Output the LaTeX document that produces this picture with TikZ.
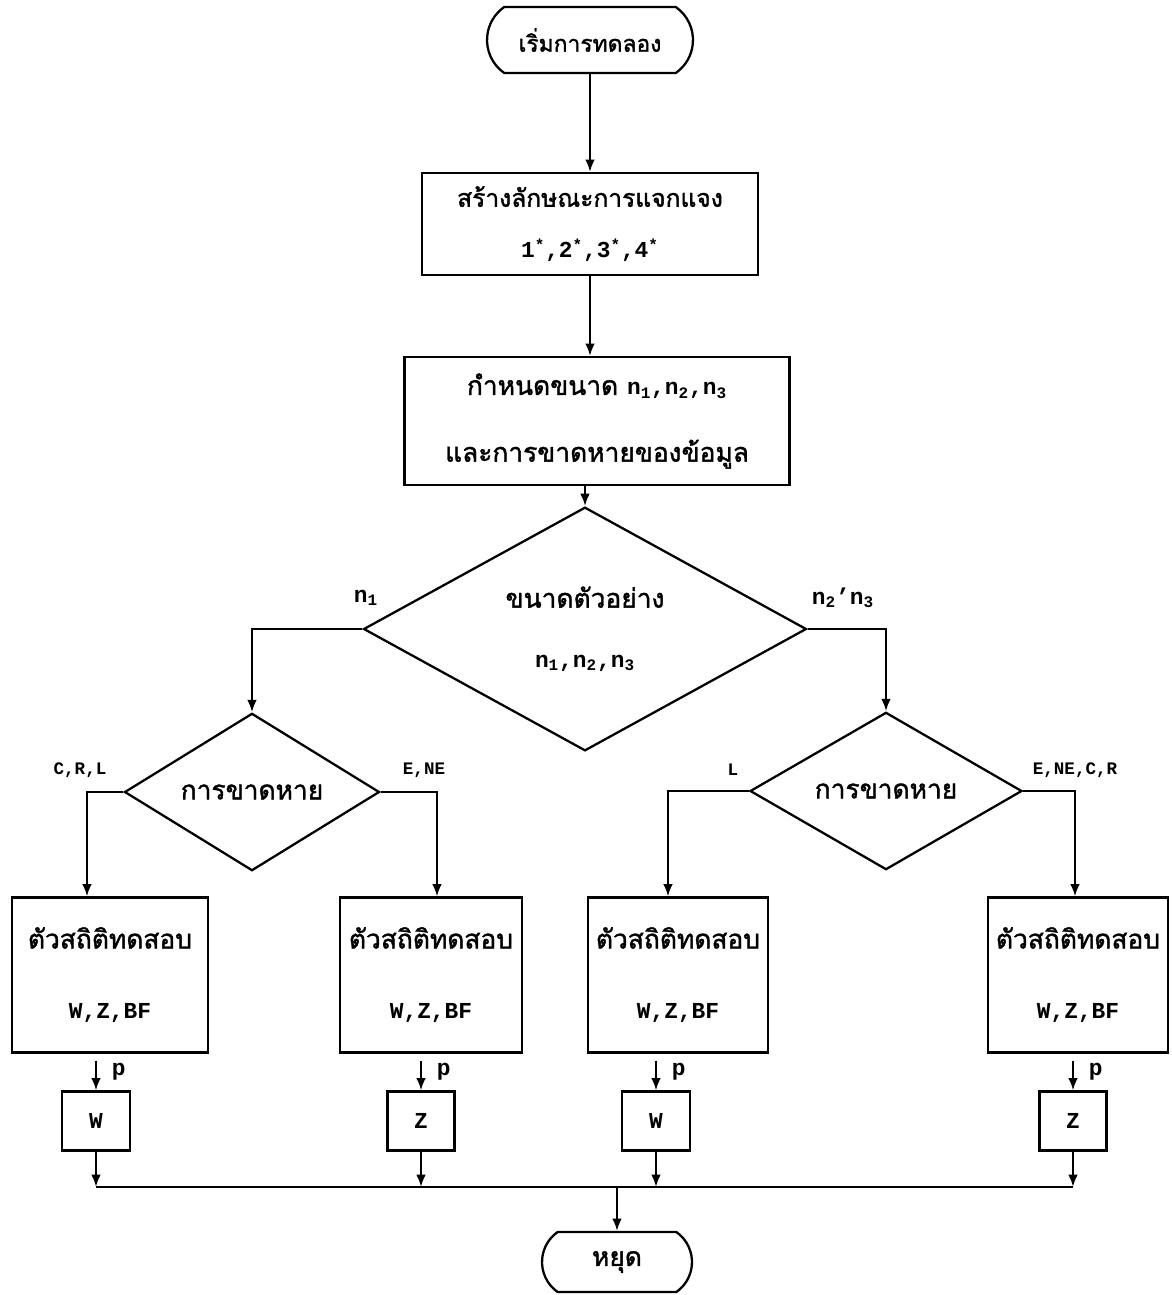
\documentclass[tikz,border=0pt]{standalone}
\usepackage{fontspec}
\setmainfont{Liberation Mono}
\newfontfamily\thaifnt[Script=Thai,FakeBold=1.5]{Loma}
\usetikzlibrary{shapes.geometric,shapes.misc,arrows.meta}
\newcommand\latxt[1]{{\rmfamily\bfseries\fontsize{13}{16}\selectfont #1}}
\begin{document}
\begin{tikzpicture}[x=0.02cm,y=-0.02cm,
  line width=1.3pt,
  arr/.style={-{Latex[length=7pt,width=5.5pt]}},
  box/.style={draw, rectangle, inner sep=0pt, align=center},
  term/.style={draw, rounded rectangle, rounded rectangle arc length=110, inner sep=0pt},
  dia/.style={draw, diamond, inner sep=0pt, align=center},
  th/.style={font=\thaifnt\fontsize{15}{18}\selectfont},
  ths/.style={font=\thaifnt\fontsize{14}{17}\selectfont},
  lat/.style={font=\rmfamily\bfseries\fontsize{13}{16}\selectfont},
  lab/.style={font=\rmfamily\bfseries\fontsize{10}{11}\selectfont},
]
\useasboundingbox (0,0) rectangle (1171,1295);
\fill[white] (0,0) rectangle (1171,1295);

\node[term, font=\thaifnt\fontsize{13}{16}\selectfont, minimum width=4.12cm, minimum height=1.32cm] (start) at (590,40) {เริ่มการทดลอง};
\node[box, ths, minimum width=6.72cm, minimum height=2.04cm] (b1) at (590,224)
  {สร้างลักษณะการแจกแจง\\[12pt]\latxt{1\textsuperscript{*},2\textsuperscript{*},3\textsuperscript{*},4\textsuperscript{*}}};
\node[box, th, minimum width=7.7cm, minimum height=2.56cm] (b2) at (597,421)
  {กำหนดขนาด \latxt{n\textsubscript{1},n\textsubscript{2},n\textsubscript{3}}\\[20pt]และการขาดหายของข้อมูล};
\node[dia, th, minimum width=8.86cm, minimum height=3.44cm] (d0) at (585,629)
  {ขนาดตัวอย่าง\\[16pt]\latxt{n\textsubscript{1},n\textsubscript{2},n\textsubscript{3}}};
\node[dia, th, minimum width=5.1cm, minimum height=2.1cm] (d1) at (252,792) {การขาดหาย};
\node[dia, th, minimum width=5.44cm, minimum height=2.14cm] (d2) at (886,791) {การขาดหาย};

\node[box, th, minimum width=3.92cm, minimum height=3.1cm] (s1) at (110,975) {ตัวสถิติทดสอบ\\[22pt]\latxt{W,Z,BF}};
\node[box, th, minimum width=3.64cm, minimum height=3.1cm] (s2) at (431,975) {ตัวสถิติทดสอบ\\[22pt]\latxt{W,Z,BF}};
\node[box, th, minimum width=3.6cm, minimum height=3.1cm] (s3) at (678,975) {ตัวสถิติทดสอบ\\[22pt]\latxt{W,Z,BF}};
\node[box, th, minimum width=3.6cm, minimum height=3.1cm] (s4) at (1078,975) {ตัวสถิติทดสอบ\\[22pt]\latxt{W,Z,BF}};

\node[box, lat, minimum width=1.36cm, minimum height=1.18cm] (r1) at (96,1121) {W};
\node[box, lat, minimum width=1.34cm, minimum height=1.18cm] (r2) at (421,1121) {Z};
\node[box, lat, minimum width=1.36cm, minimum height=1.18cm] (r3) at (656,1121) {W};
\node[box, lat, minimum width=1.34cm, minimum height=1.18cm] (r4) at (1073,1121) {Z};

\node[term, th, minimum width=3cm, minimum height=1.2cm] (stop) at (617,1262) {หยุด};

\node[lab] (lC) at (80,770) {C,R,L};
\node[lab] (lE) at (424,770) {E,NE};
\node[lab] (lL) at (733,770) {L};
\node[lab] (lE2) at (1075,770) {E,NE,C,R};
\node[lat] (ln1) at (366,598) {n\textsubscript{1}};
\node[lat] (ln23) at (843,598) {n\textsubscript{2}'n\textsubscript{3}};

\coordinate (c1) at (87,0);
\coordinate (c2) at (437,0);
\coordinate (c3) at (668,0);
\coordinate (c4) at (1075,0);
\coordinate (m) at (0,1187);

\draw[arr] (start.south) -- (b1.north);
\draw[arr] (b1.south) -- (b1.south |- b2.north);
\draw[arr] (b2.south -| d0.north) -- (d0.north);
\draw[arr] (d0.west) -| (d1.north);
\draw[arr] (d0.east) -| (d2.north);
\draw[arr] (d1.west) -| (c1 |- s1.north);
\draw[arr] (d1.east) -| (c2 |- s2.north);
\draw[arr] (d2.west) -| (c3 |- s3.north);
\draw[arr] (d2.east) -| (c4 |- s4.north);

\draw[arr, shorten <=4pt] (r1.north |- s1.south) -- node[lat, right=5pt] {p} (r1.north);
\draw[arr, shorten <=4pt] (r2.north |- s2.south) -- node[lat, right=5pt] {p} (r2.north);
\draw[arr, shorten <=4pt] (r3.north |- s3.south) -- node[lat, right=5pt] {p} (r3.north);
\draw[arr, shorten <=4pt] (r4.north |- s4.south) -- node[lat, right=5pt] {p} (r4.north);

\draw[arr] (r1.south) -- (r1.south |- m);
\draw[arr] (r2.south) -- (r2.south |- m);
\draw[arr] (r3.south) -- (r3.south |- m);
\draw[arr] (r4.south) -- (r4.south |- m);
\draw (r1.south |- m) -- (r4.south |- m);
\draw[arr] (stop.north |- m) -- (stop.north);
\end{tikzpicture}
\end{document}
